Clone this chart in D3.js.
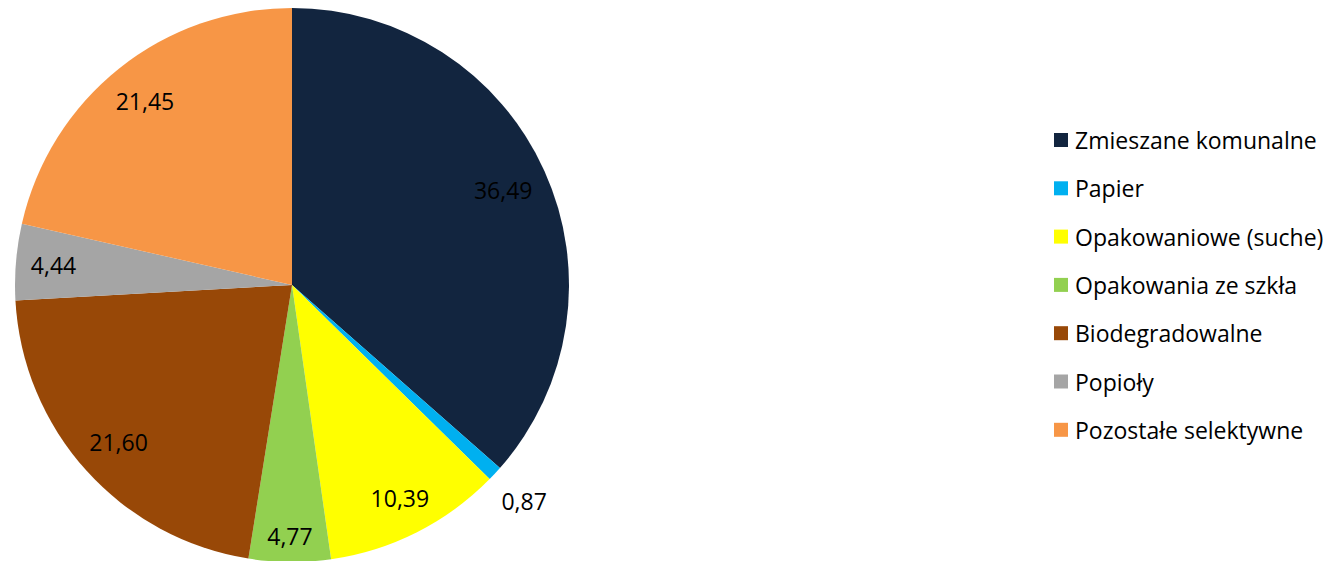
<!DOCTYPE html>
<html lang="pl">
<head>
<meta charset="utf-8">
<script src="https://cdn.jsdelivr.net/npm/d3@7"></script>
<style>
    body { margin: 0; background: #fff; }
    text { font-family: "Open Sans", Lato, sans-serif; fill: #000; }
</style>
</head>
<body>
<svg id="chart"></svg>
<script>
    const categories = ["Zmieszane komunalne", "Papier", "Opakowaniowe (suche)", "Opakowania ze szkła",
        "Biodegradowalne", "Popioły", "Pozostałe selektywne"];
    const values = [36.49, 0.87, 10.39, 4.77, 21.60, 4.44, 21.45];
    const colors = ["#12253F", "#00B0F0", "#FFFF00", "#92D050", "#984807", "#A5A5A5", "#F79646"];

    const width = 1335, height = 561;
    const cx = 292, cy = 285, R = 277;

    const svg = d3.select("#chart").attr("width", width).attr("height", height);

    const pie = d3.pie().sort(null).value(d => d.v);
    const arcs = pie(values.map((v, i) => ({v: v, name: categories[i], color: colors[i]})));
    const arc = d3.arc().innerRadius(0).outerRadius(R);

    const g = svg.append("g").attr("transform", `translate(${cx},${cy})`);

    g.selectAll("path")
        .data(arcs)
        .join("path")
        .attr("d", arc)
        .attr("fill", d => d.data.color);

    const fmt = v => v.toFixed(2).replace(".", ",");

    // label placement: inside near the rim, outside for tiny slices
    const labels = g.selectAll("text.lbl")
        .data(arcs)
        .join("text")
        .attr("class", "lbl")
        .attr("font-size", 23)
        .attr("text-anchor", "middle")
        .attr("dominant-baseline", "central")
        .text(d => fmt(d.data.v));

    labels.each(function (d) {
        const bb = this.getBBox();
        const hw = bb.width / 2, hh = bb.height / 2 - 5;
        const a = (d.startAngle + d.endAngle) / 2;
        const ux = Math.sin(a), uy = -Math.cos(a);
        const small = (d.endAngle - d.startAngle) < 0.1;
        // corner offset: outer corner for inside labels, inner corner for outside labels
        const sx = small ? -Math.sign(ux) * hw : Math.sign(ux) * hw;
        const sy = small ? -Math.sign(uy) * hh : Math.sign(uy) * hh;
        const target = small ? R + 16 : R - 14;
        // solve |t*u + s| = target
        const b = 2 * (ux * sx + uy * sy);
        const c = sx * sx + sy * sy - target * target;
        const t = (-b + Math.sqrt(b * b - 4 * c)) / 2;
        d3.select(this).attr("x", t * ux).attr("y", t * uy);
    });

    // legend
    const legend = svg.append("g").attr("transform", "translate(1054,140)");
    const rows = legend.selectAll("g")
        .data(categories)
        .join("g")
        .attr("transform", (d, i) => `translate(0,${i * 48.3})`);
    rows.append("rect")
        .attr("x", 0).attr("y", -7)
        .attr("width", 14).attr("height", 14)
        .attr("fill", (d, i) => colors[i]);
    rows.append("text")
        .attr("x", 21)
        .attr("dominant-baseline", "central")
        .attr("font-size", 23)
        .text(d => d);
</script>
</body>
</html>
